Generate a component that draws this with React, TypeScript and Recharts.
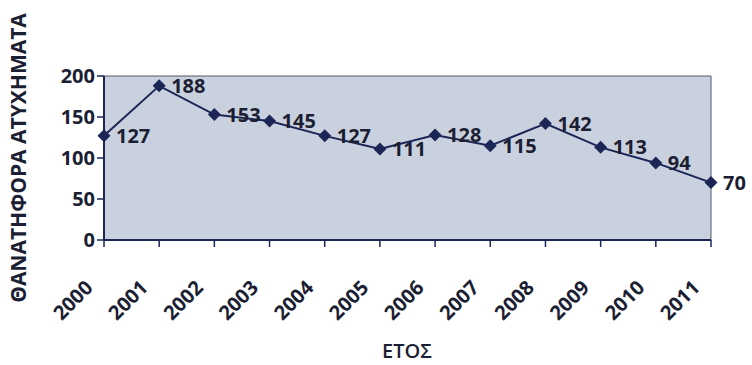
import { CartesianGrid, LabelList, Line, LineChart, ReferenceArea, XAxis, YAxis } from "recharts";

const years = ["2000", "2001", "2002", "2003", "2004", "2005", "2006", "2007", "2008", "2009", "2010", "2011"];
const deaths = [127, 188, 153, 145, 127, 111, 128, 115, 142, 113, 94, 70];
const yTicks = [0, 50, 100, 150, 200];

const data = years.map((y, i) => ({ year: y, value: deaths[i] }));

const FONT = "'Open Sans', 'Noto Sans', sans-serif";
const INK = "#1c1f33";
const NAVY = "#1b2556";

function Diamond(props: any) {
  const { cx, cy, index } = props;
  if (cx == null || cy == null) return null;
  const r = 6.5;
  return (
    <path
      key={index}
      d={`M${cx},${cy - r}L${cx + r},${cy}L${cx},${cy + r}L${cx - r},${cy}Z`}
      fill={NAVY}
    />
  );
}

// labels sit below-left of the tick, rotated 45deg like the Excel original
function YearTick(props: any) {
  const { x, y, payload } = props;
  return (
    <g transform={`translate(${x - 10},${y + 40})`}>
      <text
        transform="rotate(-45)"
        textAnchor="end"
        fontFamily={FONT}
        fontWeight={700}
        fontSize={20}
        fill={INK}
      >
        {payload.value}
      </text>
    </g>
  );
}

export default function App() {
  return (
    <div style={{ position: "absolute", left: 0, top: 0, background: "#fff" }}>
      <LineChart
        width={752}
        height={365}
        data={data}
        margin={{ top: 76, right: 41, bottom: 0, left: 0 }}
      >
        <CartesianGrid horizontal={false} vertical={false} fill="#c9d1df" />
        <ReferenceArea
          x1="2000"
          x2="2011"
          y1={0}
          y2={200}
          fill="#c9d1df"
          fillOpacity={1}
          stroke="#555a66"
          strokeWidth={1}
        />
        <XAxis
          dataKey="year"
          height={125}
          tick={<YearTick />}
          interval={0}
          axisLine={{ stroke: NAVY, strokeWidth: 2 }}
          tickLine={{ stroke: NAVY, strokeWidth: 1.5 }}
          tickSize={7}
          label={{
            content: () => (
              <text
                x={407}
                y={358}
                textAnchor="middle"
                fontFamily={FONT}
                fontWeight={600}
                fontSize={20}
                fill={INK}
              >
                ΕΤΟΣ
              </text>
            ),
          }}
        />
        <YAxis
          width={104}
          domain={[0, 200]}
          ticks={yTicks}
          interval={0}
          axisLine={{ stroke: NAVY, strokeWidth: 2 }}
          tickLine={{ stroke: NAVY, strokeWidth: 1.5 }}
          tickSize={7}
          tick={{ fontFamily: FONT, fontWeight: 700, fontSize: 20, fill: INK }}
          label={{
            content: () => (
              <text
                transform="translate(26,158) rotate(-90)"
                textAnchor="middle"
                fontFamily={FONT}
                fontWeight={700}
                fontSize={21}
                fill={INK}
              >
                ΘΑΝΑΤΗΦΟΡΑ ΑΤΥΧΗΜΑΤΑ
              </text>
            ),
          }}
        />
        <Line
          type="linear"
          dataKey="value"
          stroke={NAVY}
          strokeWidth={2}
          dot={<Diamond />}
          activeDot={false}
          isAnimationActive={false}
        >
          <LabelList
            dataKey="value"
            position="right"
            offset={12}
            fontFamily={FONT}
            fontWeight={700}
            fontSize={20}
            fill={INK}
          />
        </Line>
      </LineChart>
    </div>
  );
}
